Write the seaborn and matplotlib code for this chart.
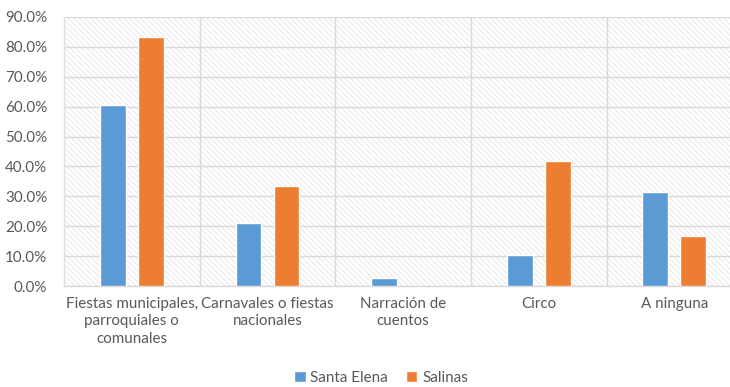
import matplotlib
matplotlib.use("Agg")
import matplotlib.pyplot as plt
import seaborn as sns
import pandas as pd
import numpy as np
from matplotlib.patches import Rectangle
from matplotlib.ticker import FixedLocator, MultipleLocator, FuncFormatter

categories = ["Fiestas municipales,\nparroquiales o\ncomunales",
              "Carnavales o fiestas\nnacionales",
              "Narración de\ncuentos",
              "Circo",
              "A ninguna"]
series_names = ["Santa Elena", "Salinas"]
santa_elena = [60.5, 21.0, 2.6, 10.5, 31.6]
salinas = [83.3, 33.3, 0.0, 41.7, 16.7]
colors = ["#5B9BD5", "#ED7D31"]

df = pd.DataFrame({
    "cat": categories * 2,
    "serie": [series_names[0]] * 5 + [series_names[1]] * 5,
    "val": santa_elena + salinas,
})

sns.set_style("white")
plt.rcParams["font.family"] = ["Lato", "DejaVu Sans"]
plt.rcParams["hatch.linewidth"] = 0.6

fig = plt.figure(figsize=(7.30, 3.87), dpi=100)
ax = fig.add_axes([64/730, 1-286/387, 666/730, (286-17)/387])

ax.add_patch(Rectangle((0, 0), 1, 1, transform=ax.transAxes, fill=False,
                       hatch="\\" * 6, edgecolor="#e4e4e4", lw=0, zorder=0))

sns.barplot(data=df, x="cat", y="val", hue="serie", palette=colors,
            saturation=1, width=0.56, gap=0.32, ax=ax, zorder=3, legend=True)

ax.set_xlim(-0.5, 4.41)
ax.set_ylim(0, 90)
ax.yaxis.set_major_locator(MultipleLocator(10))
ax.yaxis.set_major_formatter(FuncFormatter(lambda v, p: f"{v:.1f}%"))
ax.xaxis.set_minor_locator(FixedLocator([0.5, 1.5, 2.5, 3.5]))
ax.grid(axis="y", which="major", color="#d9d9d9", lw=1, zorder=1)
ax.grid(axis="x", which="minor", color="#d9d9d9", lw=1, zorder=1)
ax.set_axisbelow(True)
ax.tick_params(axis="both", which="both", length=0, labelsize=10.9,
               colors="#595959")
ax.tick_params(axis="x", pad=8)
ax.tick_params(axis="y", pad=12)
ax.set_xlabel("")
ax.set_ylabel("")
for s in ["top", "right"]:
    ax.spines[s].set_visible(False)
ax.spines["left"].set_color("#e0e0e0")
ax.spines["left"].set_linewidth(1)
ax.spines["bottom"].set_color("#d9d9d9")
ax.spines["bottom"].set_linewidth(1)
for lab in ax.get_xticklabels():
    lab.set_linespacing(1.3)

leg = ax.get_legend()
handles = leg.legend_handles
leg.remove()
fig.legend(handles, series_names, loc="center", bbox_to_anchor=(0.522, 0.024),
           ncol=2, frameon=False, fontsize=10.9, handlelength=0.75,
           handleheight=0.75, handletextpad=0.3, columnspacing=1.2,
           labelcolor="#595959")

fig.savefig("out.png", dpi=100)
